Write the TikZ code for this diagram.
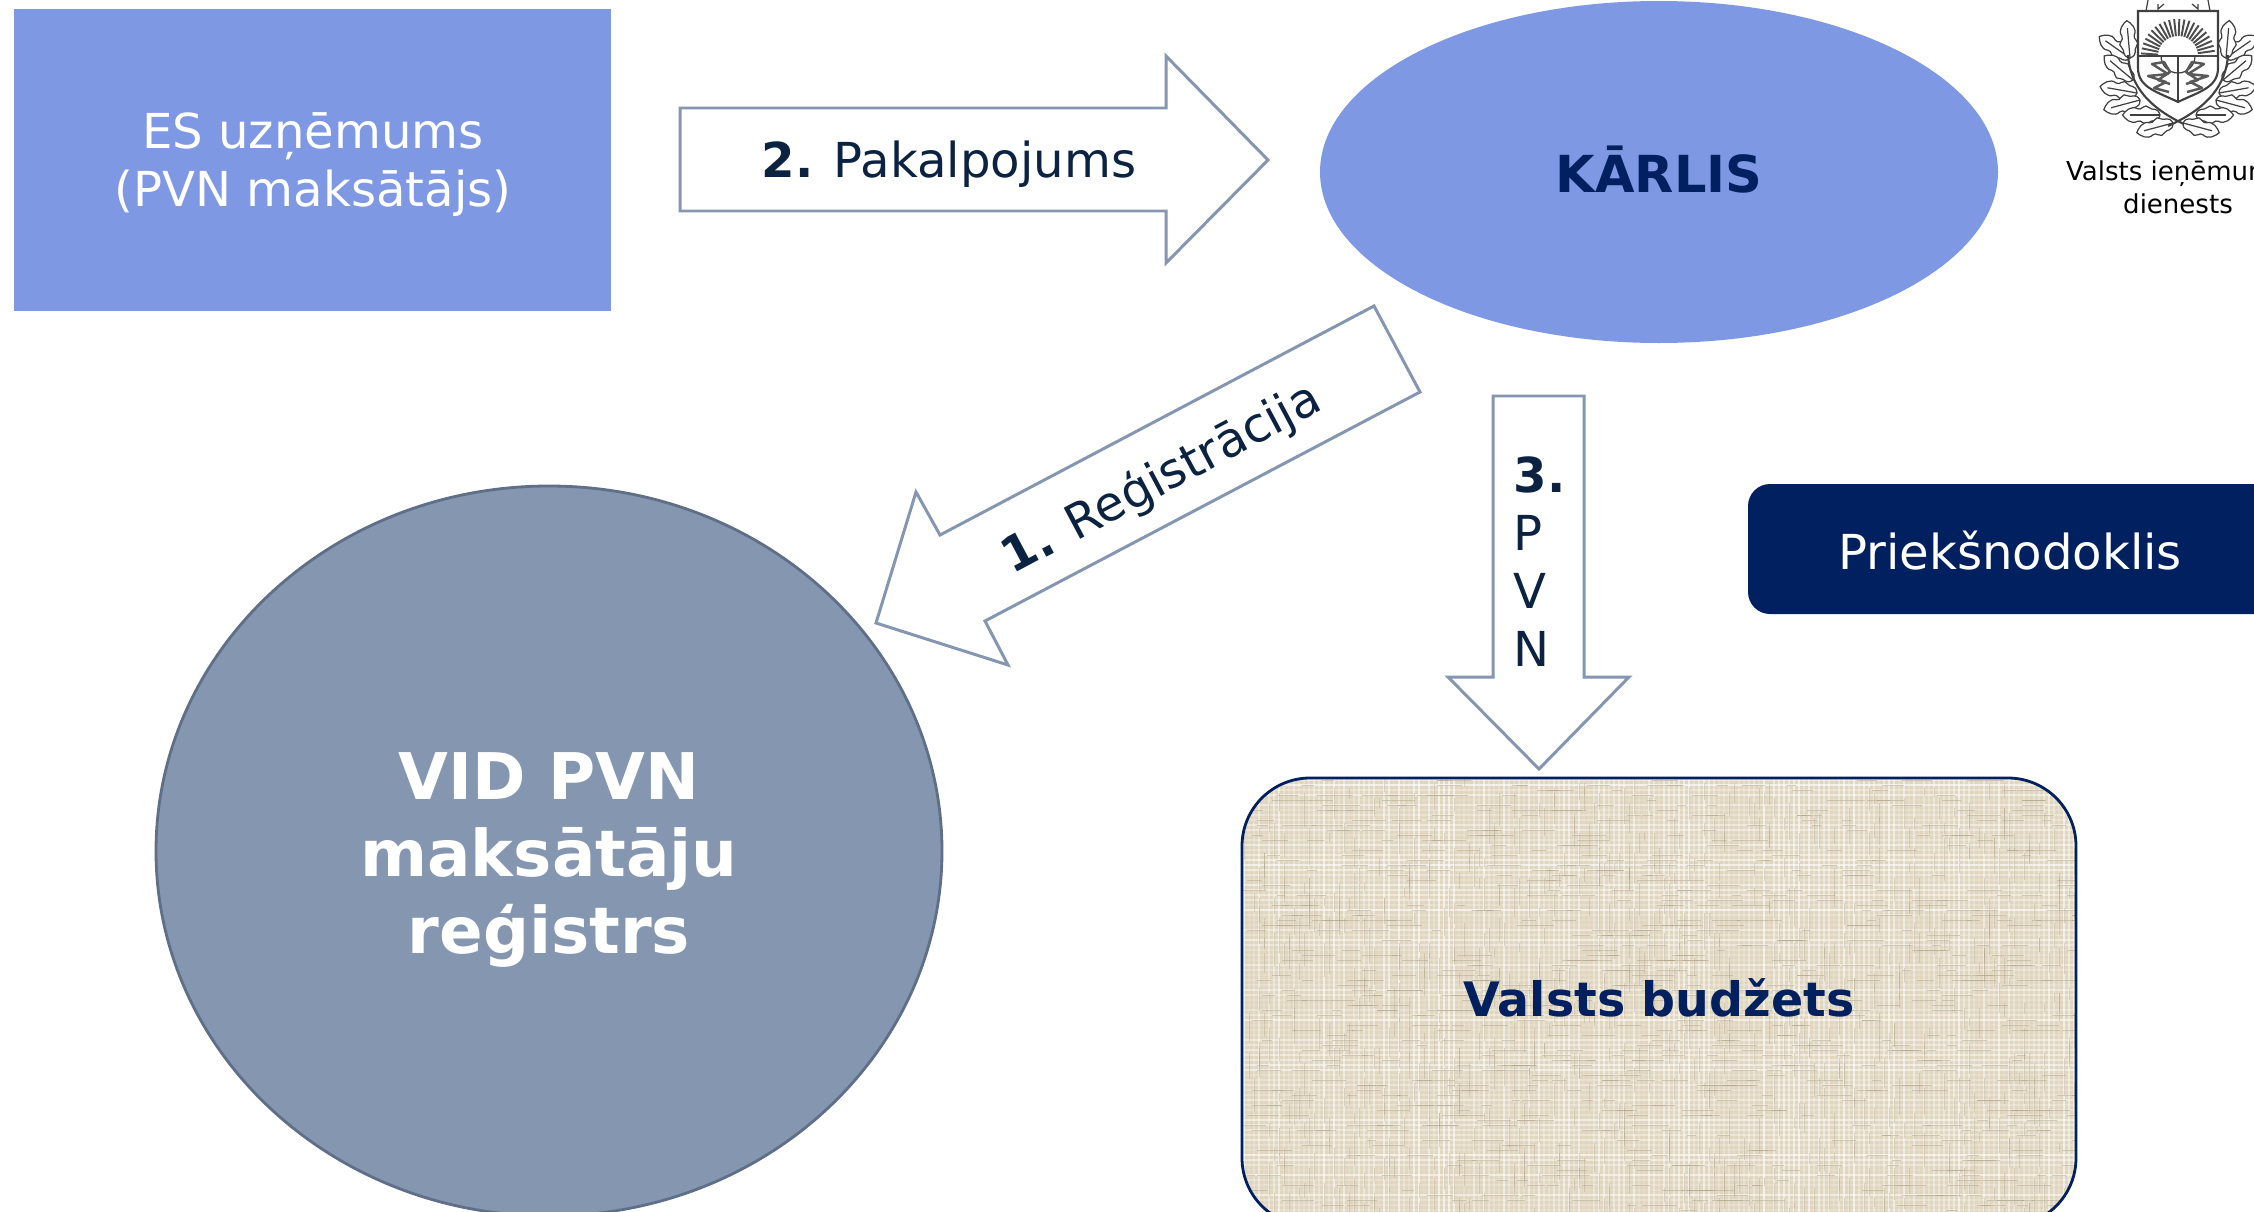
\documentclass[tikz,border=0pt]{standalone}
\usepackage{fontspec}
\setmainfont{DejaVu Sans}
\definecolor{bluefill}{HTML}{7F98E4}
\definecolor{greyblue}{HTML}{8496B0}
\definecolor{greyedge}{HTML}{5F6F88}
\definecolor{navy}{HTML}{002060}
\definecolor{inkblue}{HTML}{0B2240}
\definecolor{linen}{HTML}{E0D5BE}
\definecolor{linendark}{HTML}{A89C82}
\tikzset{
	blockarrow/.style={draw=greyblue,line width=0.85pt,fill=white,line join=miter},
	normaltext/.style={font=\fontsize{13.7}{16.5}\selectfont,align=center,inner sep=0pt},
	bigtext/.style={font=\fontsize{18.3}{22}\selectfont\bfseries,align=center,inner sep=0pt},
	midtext/.style={font=\fontsize{14.5}{18}\selectfont\bfseries,align=center,inner sep=0pt},
	logoline/.style={line width=0.35pt,draw=black!75},
	oakleaf/.pic={\draw[logoline,fill=white] (0,0) .. controls (2,-7) and (6,-3) .. (9,-6) .. controls (12,-10) and (15,-3) .. (18,-5) .. controls (23,-8) and (28,-3) .. (30,0) .. controls (28,3) and (23,8) .. (18,5) .. controls (15,3) and (12,10) .. (9,6) .. controls (6,3) and (2,7) .. (0,0) -- cycle; \draw[logoline] (0,0)--(24,0);}
}
\begin{document}
\begin{tikzpicture}[x=0.01cm,y=-0.01cm]
	\useasboundingbox (0,0) rectangle (2254,1212);
	\clip (0,0) rectangle (2254,1212);
	
	%TOP BOXES
	\fill[bluefill] (14,9) rectangle (611,311);
	\node[normaltext,text=white] (company) at (313,165) {ES uzņēmums\\(PVN maksātājs)};
	\fill[bluefill] (1659,172) ellipse (339 and 171);
	\node[midtext,text=navy] (karlis) at (1659,170) {KĀRLIS};
	
	%REGISTER CIRCLE
	\draw[fill=greyblue,draw=greyedge,line width=0.8pt] (549,851) ellipse (393 and 365);
	\node[bigtext,text=white] (register) at (549,860) {VID PVN\\maksātāju\\reģistrs};
	
	%BUDGET BOX
	\begin{scope}
	\path[rounded corners=0.68cm,clip] (1242,778) rectangle (2076,1226);
	\fill[linen] (1242,778) rectangle (2076,1226);
	\pgfmathsetseed{11}
	\foreach \y in {780,785,...,1225}{
	\pgfmathsetmacro{\lineop}{0.1+0.55*rnd}
	\draw[white,opacity=\lineop,line width=0.35pt] (1242,\y)--(2076,\y);
	}
	\foreach \x in {1244,1249,...,2076}{
	\pgfmathsetmacro{\lineop}{0.1+0.55*rnd}
	\draw[white,opacity=\lineop,line width=0.35pt] (\x,778)--(\x,1226);
	}
	\foreach \i in {1,...,900}{	%darker threads
	\pgfmathsetmacro{\tx}{1242+5*round(167*rnd)}
	\pgfmathsetmacro{\ty}{778+5*round(90*rnd)+2.5}
	\pgfmathsetmacro{\tl}{8+30*rnd}
	\draw[linendark,opacity=0.45,line width=0.4pt] (\tx,\ty)--++(\tl,0);
	\pgfmathsetmacro{\tx}{1242+5*round(167*rnd)+2.5}
	\pgfmathsetmacro{\ty}{778+5*round(90*rnd)}
	\draw[linendark,opacity=0.35,line width=0.4pt] (\tx,\ty)--++(0,\tl);
	}
	\end{scope}
	\draw[navy,line width=0.8pt,rounded corners=0.68cm] (1242,778) rectangle (2076,1226);
	\node[midtext,text=navy,font=\fontsize{13.5}{18}\selectfont\bfseries] (budget) at (1659,998) {Valsts budžets};
	
	%BLOCK ARROWS
	\draw[blockarrow] (680,108)--(1166,108)--(1166,56)--(1268,160)--(1166,263)--(1166,211)--(680,211)--cycle;
	\node[normaltext,text=inkblue] (service) at (949,164) {\textbf{2.} Pakalpojums};
	\draw[blockarrow] (1374,306)--(1420,392)--(985,621)--(1008,665)--(876,623)--(916,492)--(940,535)--cycle;
	\node[normaltext,text=inkblue,rotate=28] (registration) at (1162,480) {\textbf{1.} Reģistrācija};
	\draw[blockarrow] (1493,396)--(1584,396)--(1584,677)--(1629,677)--(1539,769)--(1448,677)--(1493,677)--cycle;
	\node[normaltext,text=inkblue,align=left,anchor=north west] (vat) at (1513,456) {\textbf{3.}\\P\\V\\N};
	
	%INPUT TAX BOX
	\fill[navy,rounded corners=0.22cm] (1748,484) rectangle (2300,614);
	\node[normaltext,text=white] (inputtax) at (2010,551) {Priekšnodoklis};
	
	%LOGO
	\begin{scope}[shift={(2178,0)}]
	\foreach \s in {1,-1}{
	\foreach \px/\py/\r in {-48/58/145,-48/58/95,-45/80/140,-41/93/170,-38/100/195,-18/115/180,-5/123/195}
	\pic[rotate={90+\s*(\r-90)},scale=1.25] at ({\s*\px},\py) {oakleaf};
	\draw[logoline,line width=0.6pt] ({\s*(-50)},55) .. controls ({\s*(-48)},85) and ({\s*(-30)},108) .. ({\s*10},126);	%stem
	\draw[logoline] ({\s*(-32)},11)--({\s*(-30)},0) ({\s*(-20)},4)--({\s*(-20)},9)--({\s*(-14)},4);	%crown
	}
	\draw[logoline,line width=0.6pt,fill=white] (-40,11)--(40,11)--(40,68) .. controls (40,88) and (20,92) .. (0,102) .. controls (-20,92) and (-40,88) .. (-40,68)--cycle;
	\draw[logoline,line width=0.6pt] (-40,56)--(40,56) (0,56)--(0,102);
	\foreach \a in {0,8,...,180}
	\draw[black!70,line width=0.55pt] ({20*cos(\a)},{56-20*sin(\a)})--({37*cos(\a)},{56-37*sin(\a)});
	\draw[logoline] (-17,56) arc[start angle=180,end angle=0,radius=17];
	\foreach \s in {-1,1}
	\draw[black!65,line width=0.7pt,line join=round] ({\s*9},92)--({\s*24},88)--({\s*12},82)--({\s*30},76)--({\s*10},74)--({\s*26},64)--({\s*14},62)--({\s*8},72)--({\s*20},80)--({\s*8},84);
	\end{scope}
	\node[font=\fontsize{7.4}{9.4}\selectfont,align=center,inner sep=0pt,text=black] (taxoffice) at (2178,187) {Valsts ieņēmumu\\dienests};
	\end{tikzpicture}
\end{document}
